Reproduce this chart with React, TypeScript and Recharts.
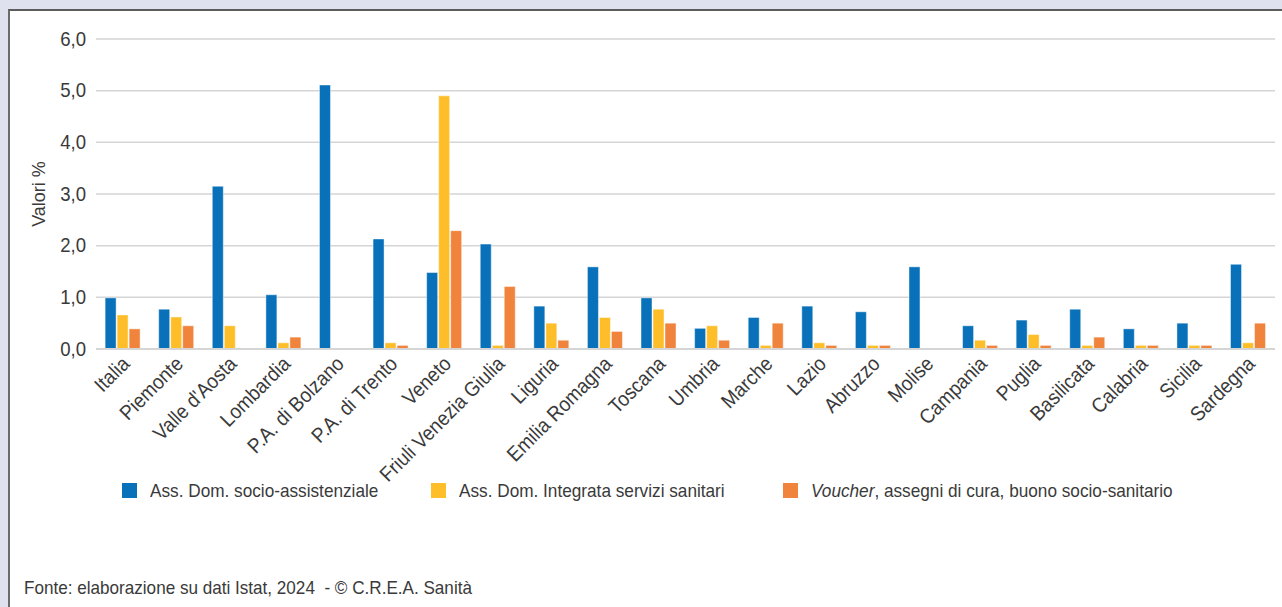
import React from 'react';
import { BarChart, Bar, XAxis, YAxis, CartesianGrid } from 'recharts';

const regions = [
  'Italia', 'Piemonte', "Valle d'Aosta", 'Lombardia', 'P.A. di Bolzano', 'P.A. di Trento', 'Veneto',
  'Friuli Venezia Giulia', 'Liguria', 'Emilia Romagna', 'Toscana', 'Umbria', 'Marche', 'Lazio',
  'Abruzzo', 'Molise', 'Campania', 'Puglia', 'Basilicata', 'Calabria', 'Sicilia', 'Sardegna',
];

// Ass. Dom. socio-assistenziale
const socioAssistenziale = [0.99, 0.77, 3.15, 1.05, 5.11, 2.13, 1.48, 2.03, 0.83, 1.59, 0.99, 0.4, 0.61, 0.83, 0.72, 1.59, 0.45, 0.56, 0.77, 0.39, 0.5, 1.64];
// Ass. Dom. Integrata servizi sanitari
const integrataSanitari = [0.66, 0.62, 0.45, 0.12, 0, 0.12, 4.9, 0.07, 0.5, 0.61, 0.77, 0.45, 0.07, 0.12, 0.07, 0, 0.17, 0.28, 0.07, 0.07, 0.07, 0.12];
// Voucher, assegni di cura, buono socio-sanitario
const voucher = [0.39, 0.45, 0, 0.23, 0, 0.07, 2.29, 1.21, 0.17, 0.34, 0.5, 0.17, 0.5, 0.07, 0.07, 0, 0.07, 0.07, 0.23, 0.07, 0.07, 0.5];

const yTicks = [0, 1, 2, 3, 4, 5, 6];

const series = [
  { key: 'socio', color: '#0871b9', label: 'Ass. Dom. socio-assistenziale', italic: '' },
  { key: 'adi', color: '#fdbe2a', label: 'Ass. Dom. Integrata servizi sanitari', italic: '' },
  { key: 'voucher', color: '#f0843c', label: ', assegni di cura, buono socio-sanitario', italic: 'Voucher' },
];
const legendLeft = [122, 431, 783];

const data = regions.map((name, i) => ({
  name,
  socio: socioAssistenziale[i],
  adi: integrataSanitari[i],
  voucher: voucher[i],
}));

const FONT = '"Liberation Sans", Arial, sans-serif';
const TEXT = '#3a3a3a';
const SQUEEZE = 0.905;

const RegionTick = ({ x, y, payload }: any) => (
  <text
    transform={`translate(${x + 8},${y + 8}) rotate(-45) scale(0.92 1)`}
    textAnchor="end"
    fill={TEXT}
    fontSize={20.5}
    fontFamily={FONT}
  >
    {payload.value}
  </text>
);

const ValueTick = ({ x, y, payload }: any) => (
  <text
    transform={`translate(${x},${y}) scale(0.93 1)`}
    textAnchor="end"
    dominantBaseline="central"
    fill={TEXT}
    fontSize={20}
    fontFamily={FONT}
  >
    {payload.value.toFixed(1).replace('.', ',')}
  </text>
);

export default function App() {
  return (
    <div style={{ position: 'fixed', left: 0, top: 0, width: 1282, height: 607, background: '#dfe1ee', overflow: 'hidden' }}>
      <div
        style={{
          position: 'absolute', left: 8, top: 9, width: 1282 - 8, height: 607 - 9,
          background: '#fff', borderTop: '2px solid #5c5c5c', borderLeft: '2px solid #6a6a6a', boxSizing: 'border-box',
        }}
      />
      <div style={{ position: 'absolute', left: 0, top: 0 }}>
        <BarChart
          width={1282}
          height={500}
          data={data}
          margin={{ top: 39, right: 7, left: 36, bottom: 0 }}
          barCategoryGap="17%"
          barGap={1}
        >
          <CartesianGrid vertical={false} stroke="#d5d5d5" strokeWidth={1.5} />
          <XAxis
            dataKey="name"
            interval={0}
            height={151}
            tick={<RegionTick />}
            tickLine={false}
            axisLine={{ stroke: '#d5d5d5', strokeWidth: 2 }}
          />
          <YAxis
            width={60}
            domain={[0, 6]}
            ticks={yTicks}
            tick={<ValueTick />}
            tickLine={false}
            axisLine={false}
            tickMargin={4}
            label={{ value: 'Valori %', angle: -90, position: 'insideLeft', offset: 3, fill: TEXT, fontSize: 18, fontFamily: FONT, style: { textAnchor: 'middle' } }}
          />
          {series.map(s => (
            <Bar key={s.key} dataKey={s.key} fill={s.color} stroke="#ffffff" strokeOpacity={0.45} strokeWidth={1} isAnimationActive={false} />
          ))}
        </BarChart>
      </div>
      {series.map((s, i) => (
        <div
          key={s.key}
          style={{
            position: 'absolute', left: legendLeft[i], top: 480, display: 'flex', alignItems: 'center',
            fontFamily: FONT, fontSize: 19, color: TEXT, whiteSpace: 'nowrap', height: 21,
          }}
        >
          <span style={{ width: 15, height: 15, background: s.color, display: 'inline-block', marginRight: 13 }} />
          <span style={{ display: 'inline-block', transform: `scaleX(${SQUEEZE})`, transformOrigin: 'left center' }}>
            {s.italic ? <i>{s.italic}</i> : null}
            {s.label}
          </span>
        </div>
      ))}
      <div
        style={{
          position: 'absolute', left: 24, top: 577, fontFamily: FONT, fontSize: 19, color: TEXT, whiteSpace: 'pre',
          transform: 'scaleX(0.9)', transformOrigin: 'left top',
        }}
      >
        {'Fonte: elaborazione su dati Istat, 2024  - © C.R.E.A. Sanità'}
      </div>
    </div>
  );
}
